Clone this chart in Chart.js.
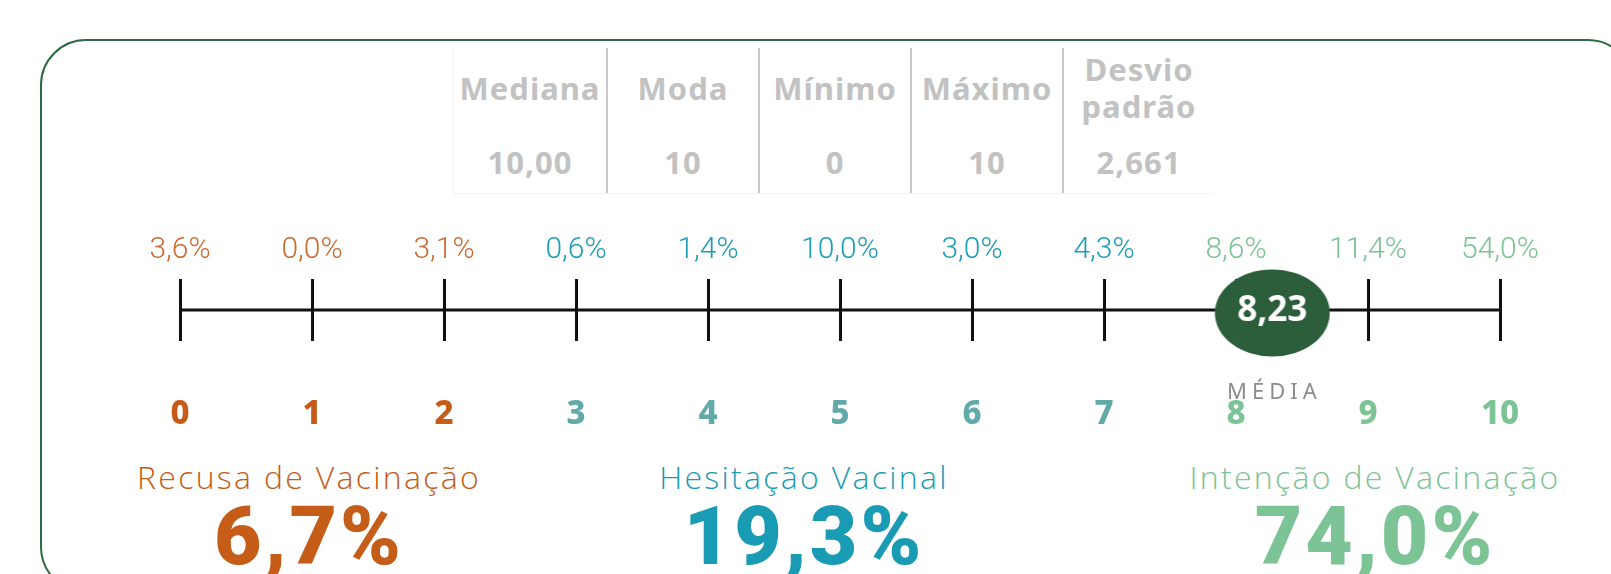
<!DOCTYPE html>
<html>
<head>
<meta charset="utf-8">
<script src="https://cdn.jsdelivr.net/npm/chart.js"></script>
<style>
  html, body { margin: 0; padding: 0; background: #fff; }
  body { width: 1611px; height: 574px; position: relative; overflow: hidden; font-family: "Noto Sans", sans-serif; }
  .frame {
    position: absolute; left: 40px; top: 39px; width: 1594px; height: 554px;
    border: 2.8px solid #2f6a42; border-radius: 46px; box-sizing: border-box;
  }
  .stats { position: absolute; left: 453px; top: 48px; height: 145px; display: flex; border-left: 1px solid #f3f3f3; border-bottom: 1px solid #f3f3f3; }
  .stat { width: 152px; height: 145px; position: relative; color: #c2c2c2; font-weight: 700; text-align: center; box-sizing: border-box; }
  .stat + .stat { border-left: 2px solid #c9c9c9; }
  .stat .name { position: absolute; left: -10px; right: -10px; top: 40px; transform: translateY(-50%); font-size: 31px; line-height: 37px; letter-spacing: 1px; }
  .stat .val { position: absolute; left: 0; right: 0; top: 114px; transform: translateY(-50%); font-size: 31px; letter-spacing: 1px; }
  .group { position: absolute; width: 600px; text-align: center; }
  .group .title { position: absolute; left: 0; right: 0; top: 0; transform: translateY(-50%); font-family: "Open Sans", sans-serif; font-weight: 300; font-size: 32px; letter-spacing: 2.3px; white-space: nowrap; }
  .group .total { position: absolute; left: 0; right: 0; top: 60px; transform: translateY(-50%); font-family: Roboto, sans-serif; font-weight: 900; font-size: 82px; letter-spacing: 3px; white-space: nowrap; }
  #wrap { position: absolute; left: 0; top: 0; width: 1611px; height: 574px; }
</style>
</head>
<body>
<div class="frame"></div>
<div class="stats" id="stats"></div>
<div id="groups"></div>
<div id="wrap"><canvas id="chart"></canvas></div>
<script>
const scores = [0, 1, 2, 3, 4, 5, 6, 7, 8, 9, 10];
const sharePct = [3.6, 0.0, 3.1, 0.6, 1.4, 10.0, 3.0, 4.3, 8.6, 11.4, 54.0];
const scoreGroup = [0, 0, 0, 1, 1, 1, 1, 1, 2, 2, 2];

const groupNames = ['Recusa de Vacinação', 'Hesitação Vacinal', 'Intenção de Vacinação'];
const groupTotals = [6.7, 19.3, 74.0];
const groupCenters = [309, 804, 1375];

const statNames = ['Mediana', 'Moda', 'Mínimo', 'Máximo', 'Desvio<br>padrão'];
const statValues = ['10,00', '10', '0', '10', '2,661'];

const meanScore = 8.23;

const pctColors = ['#cc6b2e', '#1d9db6', '#7cc396'];
const digitColors = ['#c55c18', '#62aaaa', '#7cc396'];
const totalColors = ['#c55c18', '#1a9bb4', '#7cc396'];

const fmt = (v, d) => v.toFixed(d).replace('.', ',');

// stats table
const statsEl = document.getElementById('stats');
statNames.forEach((n, i) => {
  const col = document.createElement('div');
  col.className = 'stat';
  col.innerHTML = `<div class="name">${n}</div><div class="val">${statValues[i]}</div>`;
  statsEl.appendChild(col);
});

// group headings and totals
const groupsEl = document.getElementById('groups');
groupNames.forEach((n, i) => {
  const g = document.createElement('div');
  g.className = 'group';
  g.style.left = (groupCenters[i] - 300) + 'px';
  g.style.top = '476px';
  g.innerHTML = `<div class="title" style="color:${totalColors[i]}">${n}</div>` +
    `<div class="total" style="color:${totalColors[i]}">${fmt(groupTotals[i], 1)}%</div>`;
  groupsEl.appendChild(g);
});

// mean badge used as point style (ellipse sits a touch right/below the point, as in the source)
function meanBadge(text) {
  const c = document.createElement('canvas');
  c.width = 128; c.height = 94;
  const g = c.getContext('2d');
  const cx = 70, cy = 50;
  g.fillStyle = '#2c5e3c';
  g.beginPath();
  g.ellipse(cx, cy, 57.5, 43.5, 0, 0, Math.PI * 2);
  g.fill();
  g.fillStyle = '#fff';
  g.font = '700 35px "Noto Sans"';
  g.textAlign = 'center';
  g.textBaseline = 'middle';
  g.fillText(text, cx, cy - 2);
  return c;
}

const meanLabel = {
  id: 'meanLabel',
  afterDatasetsDraw(chart) {
    const p = chart.getDatasetMeta(1).data[0];
    const ctx = chart.ctx;
    ctx.save();
    ctx.font = '400 22px "Noto Sans"';
    ctx.letterSpacing = '5px';
    ctx.fillStyle = '#8c8c8c';
    ctx.textAlign = 'center';
    ctx.textBaseline = 'middle';
    ctx.fillText('MÉDIA', p.x + 8, p.y + 83);
    ctx.restore();
  }
};

new Chart(document.getElementById('chart'), {
  type: 'line',
  data: {
    datasets: [{
      data: [{ x: 0, y: 0 }, { x: 10, y: 0 }],
      borderColor: '#111',
      borderWidth: 3,
      pointRadius: 0,
      order: 2
    }, {
      type: 'scatter',
      data: [{ x: meanScore, y: 0 }],
      pointStyle: meanBadge(fmt(meanScore, 2)),
      pointRadius: 1,
      clip: false,
      order: 1
    }]
  },
  options: {
    responsive: true,
    maintainAspectRatio: false,
    animation: false,
    layout: { padding: { left: 180, right: 111, top: 200, bottom: 133 } },
    plugins: { legend: { display: false }, tooltip: { enabled: false } },
    scales: {
      x: {
        type: 'linear', position: 'bottom', min: 0, max: 10,
        afterBuildTicks: s => { s.ticks = scores.map(v => ({ value: v })); },
        afterFit: s => { s.height = 100; },
        grid: { color: '#111', lineWidth: 3, drawTicks: false },
        border: { display: false },
        ticks: {
          padding: 54,
          autoSkip: false,
          maxRotation: 0,
          font: { family: 'Noto Sans', size: 33, weight: '800' },
          color: ctx => digitColors[scoreGroup[ctx.index]],
          callback: v => String(v)
        }
      },
      x2: {
        type: 'linear', position: 'top', min: 0, max: 10,
        afterBuildTicks: s => { s.ticks = scores.map(v => ({ value: v })); },
        afterFit: s => { s.height = 79; },
        grid: { display: false, drawTicks: false },
        border: { display: false },
        ticks: {
          padding: 11,
          autoSkip: false,
          maxRotation: 0,
          font: { family: 'Roboto', size: 30, weight: '300' },
          color: ctx => pctColors[scoreGroup[ctx.index]],
          callback: (v, i) => fmt(sharePct[i], 1) + '%'
        }
      },
      y: { display: false, min: -1, max: 1 }
    }
  },
  plugins: [meanLabel]
});
</script>
</body>
</html>
